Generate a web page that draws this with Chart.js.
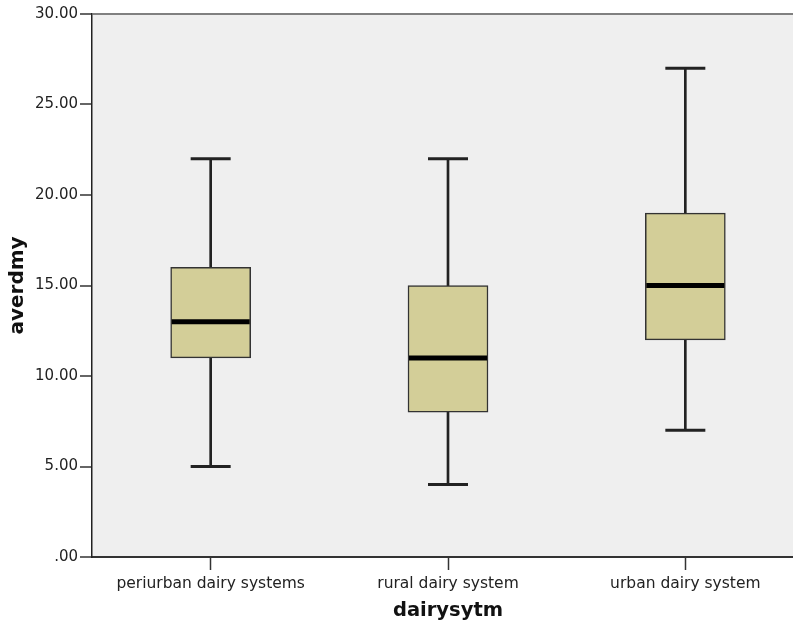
<!DOCTYPE html>
<html>
<head>
<meta charset="utf-8">
<script src="https://cdn.jsdelivr.net/npm/chart.js@4"></script>
<style>
  html, body { margin: 0; padding: 0; background: #fff; overflow: hidden; }
</style>
</head>
<body>
<canvas id="boxChart" width="804" height="626"></canvas>
<script>
// boxplot values
var categories = ['periurban dairy systems', 'rural dairy system', 'urban dairy system'];
var whiskerLow = [5, 4, 7];
var q1 = [11, 8, 12];
var medians = [13, 11, 15];
var q3 = [16, 15, 19];
var whiskerHigh = [22, 22, 27];
var yTickValues = [0, 5, 10, 15, 20, 25, 30];
var yTickLabels = ['.00', '5.00', '10.00', '15.00', '20.00', '25.00', '30.00'];

Chart.defaults.font.family = "'DejaVu Sans', sans-serif";
Chart.defaults.color = '#222';

// line controller for the median / cap marks, without the extra
// layout padding that wide point markers would otherwise ask for
class CapLineController extends Chart.LineController {
    getMaxOverflow() { return 0; }
}
CapLineController.id = 'capline';
CapLineController.defaults = Chart.LineController.defaults;
Chart.register(CapLineController);

// grey plot area like SPSS
var plotBackground = {
    id: 'plotBackground',
    beforeDraw: function (chart) {
        var a = chart.chartArea;
        var c = chart.ctx;
        c.save();
        c.fillStyle = '#efefef';
        c.fillRect(a.left, a.top, a.right - a.left, a.bottom - a.top);
        c.restore();
    }
};

var ctx = document.getElementById('boxChart').getContext('2d');
var boxChart = new Chart(ctx, {
    type: 'bar',
    data: {
        labels: categories,
        datasets: [{
            // whisker stems
            label: 'whisker',
            data: categories.map(function (c, i) { return [whiskerLow[i], whiskerHigh[i]]; }),
            backgroundColor: '#222',
            barThickness: 2,
            grouped: false,
            order: 3
        }, {
            label: 'box',
            data: categories.map(function (c, i) { return [q1[i], q3[i]]; }),
            backgroundColor: '#d3ce98',
            borderColor: '#333',
            borderWidth: 1.5,
            borderSkipped: false,
            barThickness: 80,
            grouped: false,
            order: 2
        }, {
            type: 'capline',
            label: 'median',
            data: medians,
            showLine: false,
            pointStyle: 'line',
            pointRadius: 39,
            pointBorderWidth: 5,
            pointBorderColor: '#000',
            order: 1
        }, {
            type: 'capline',
            label: 'low cap',
            data: whiskerLow,
            showLine: false,
            pointStyle: 'line',
            pointRadius: 20,
            pointBorderWidth: 3,
            pointBorderColor: '#222',
            order: 1
        }, {
            type: 'capline',
            label: 'high cap',
            data: whiskerHigh,
            showLine: false,
            pointStyle: 'line',
            pointRadius: 20,
            pointBorderWidth: 3,
            pointBorderColor: '#222',
            order: 1
        }]
    },
    options: {
        responsive: false,
        animation: false,
        devicePixelRatio: 1,
        layout: { padding: { top: 14, left: 0, right: 0, bottom: 0 } },
        plugins: {
            legend: { display: false },
            tooltip: { enabled: false }
        },
        scales: {
            x: {
                offset: true,
                grid: {
                    offset: false,
                    drawOnChartArea: false,
                    tickLength: 13,
                    tickColor: '#333',
                    tickWidth: 1.5
                },
                border: { display: true, color: '#333', width: 2 },
                ticks: {
                    padding: 5,
                    font: { size: 15.5 },
                    color: '#222',
                    maxRotation: 0
                },
                title: {
                    display: true,
                    text: 'dairysytm',
                    font: { size: 19.5, weight: 'bold' },
                    color: '#111',
                    padding: { top: 0, bottom: 3 }
                },
                afterFit: function (scale) { scale.height = 69; }
            },
            y: {
                min: 0,
                max: 30,
                afterBuildTicks: function (scale) {
                    scale.ticks = yTickValues.map(function (v) { return { value: v }; });
                },
                ticks: {
                    padding: 2,
                    font: { size: 15 },
                    color: '#222',
                    callback: function (value) {
                        return yTickLabels[yTickValues.indexOf(value)];
                    }
                },
                grid: {
                    drawOnChartArea: true,
                    color: function (c) { return c.tick && c.tick.value === 30 ? '#808080' : 'rgba(0,0,0,0)'; },
                    lineWidth: 2,
                    tickLength: 12,
                    tickColor: '#666',
                    tickWidth: 2
                },
                border: { display: true, color: '#222', width: 1.5 },
                title: {
                    display: true,
                    text: 'averdmy',
                    font: { size: 20, weight: 'bold' },
                    color: '#111',
                    padding: { top: 6, bottom: 0 }
                },
                afterFit: function (scale) { scale.width = 92; }
            }
        }
    },
    plugins: [plotBackground]
});
</script>
</body>
</html>
